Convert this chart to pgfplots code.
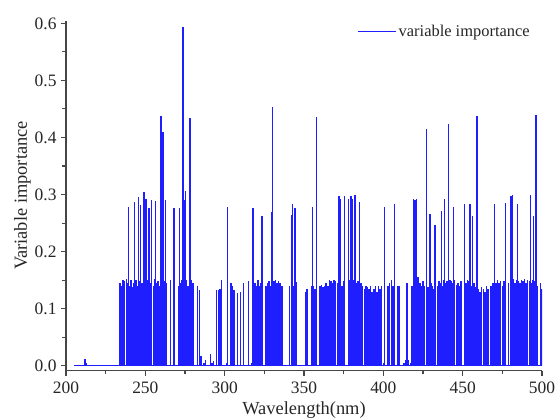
\documentclass[border=0pt]{standalone}
\usepackage{fontspec}
\setmainfont{Liberation Serif}
\usepackage{pgfplots}
\pgfplotsset{compat=1.18}
\definecolor{spinegray}{RGB}{70,70,70}
\definecolor{vblue}{RGB}{30,30,255}

\begin{document}
\begin{tikzpicture}
\begin{axis}[
    scale only axis,
    width=476bp, height=350bp,
    xmin=200, xmax=500,
    ymin=-0.0084, ymax=0.605,
    axis x line*=bottom,
    axis y line*=left,
    axis line style={spinegray, line width=1.3bp},
    xtick={200,250,...,500},
    ytick={0,0.1,...,0.6},
    minor x tick num=1,
    minor y tick num=1,
    tick align=outside,
    major tick length=5bp,
    minor tick length=3.5bp,
    tick style={spinegray, line width=1.1bp},
    /pgf/number format/assume math mode=true,
    ticklabel style={font=\fontsize{17.5}{19}\selectfont, text=black!85},
    yticklabel style={xshift=-1bp, /pgf/number format/.cd, fixed, fixed zerofill, precision=1},
    xticklabel style={yshift=-3bp, /pgf/number format/.cd, set thousands separator={}},
    xlabel={Wavelength(nm)},
    ylabel={Variable importance},
    label style={font=\fontsize{18.5}{20}\selectfont, text=black!85},
    xlabel style={yshift=-1bp},
    ylabel style={yshift=-3bp},
    legend style={at={(0.985,1.0)}, anchor=north east, draw=none, fill=none,
        font=\fontsize{16.5}{18}\selectfont, text=black!85},
    legend image code/.code={\draw[vblue, line width=1.2bp] (0bp,0bp) -- (38bp,0bp);},
]
% zero baseline of the spectrum
\addplot[vblue, line width=1.1bp, forget plot] coordinates {(205,0) (500,0)};
% near-zero values before the band
\addplot[vblue, ycomb, line width=1.1bp, forget plot] coordinates {(212,0.012) (213,0.004)};
% dense band of selected wavelengths (~0.14)
\addplot[vblue, ycomb, line width=1.5bp, forget plot] coordinates {
(234,0.145) (235,0.14) (236,0.15) (237,0.148) (238,0.152) (239,0.145) (240,0.14) (241,0.15) (242,0.138) (243,0.145)
(244,0.15) (245,0.14) (246,0.148) (247,0.15) (248,0.145) (249,0.152) (250,0.14) (251,0.15) (252,0.148) (253,0.145)
(254,0.15) (255,0.14) (256,0.152) (257,0.145) (258,0.148) (259,0.14) (260,0.15) (261,0.145) (262,0.148) (263,0.145)
(266,0.15) (268,0.148)
(271,0.14) (272,0.145) (273,0.15) (274,0.148) (275,0.145) (276,0.15) (277,0.14) (278,0.148) (279,0.15) (280,0.145)
(283,0.139) (284,0.132) (285,0.017) (287,0.005) (288,0.01) (291,0.02) (292,0.005) (293,0.008)
(295,0.133) (296,0.133) (297,0.135) (298,0.15) (301,0.005)
(304,0.145) (305,0.14) (306,0.133) (308,0.127) (310,0.13) (312,0.145) (315,0.148) (317,0.005)
(319,0.145) (320,0.14) (321,0.15) (322,0.14) (323,0.145)
(326,0.14) (327,0.145) (328,0.148) (329,0.14) (330,0.15) (331,0.148) (332,0.15) (333,0.145) (334,0.148) (335,0.145) (336,0.14)
(341,0.14) (342,0.145) (343,0.14) (344,0.145) (345,0.146)
(351,0.13) (352,0.135) (355,0.14) (356,0.14) (357,0.135) (358,0.14)
(360,0.14) (361,0.142) (362,0.138) (363,0.14) (364,0.145) (365,0.14) (366,0.15) (367,0.148) (368,0.145) (369,0.15)
(370,0.148) (371,0.145) (372,0.14) (373,0.148) (374,0.14) (375,0.148)
(378,0.145) (379,0.15) (380,0.148) (381,0.15) (382,0.152) (383,0.145) (384,0.148) (385,0.14) (386,0.145) (387,0.14)
(388,0.135) (389,0.14) (390,0.138) (391,0.135) (392,0.14) (393,0.13) (394,0.135) (395,0.14) (396,0.13) (397,0.14)
(398,0.135) (399,0.14) (400,0.005)
(403,0.14) (404,0.145) (405,0.15) (406,0.14) (407,0.14) (409,0.14) (410,0.14)
(413,0.005) (414,0.01) (415,0.145) (416,0.01) (417,0.005)
(418,0.14) (419,0.145) (420,0.15) (421,0.148) (422,0.155) (423,0.145) (424,0.14) (425,0.148) (426,0.14)
(428,0.138) (429,0.14) (430,0.145) (431,0.14) (432,0.135) (433,0.145) (434,0.14) (435,0.148) (436,0.145) (437,0.14)
(438,0.15) (439,0.145) (440,0.148) (441,0.14) (442,0.15) (443,0.148) (444,0.145) (445,0.15) (446,0.142) (447,0.145)
(448,0.14) (449,0.148)
(451,0.14) (452,0.145) (453,0.15) (454,0.148) (455,0.145) (456,0.14) (457,0.145) (458,0.138) (459,0.13) (460,0.135)
(461,0.13) (462,0.138) (463,0.135) (464,0.13) (465,0.14) (466,0.135)
(468,0.14) (469,0.145) (470,0.148) (471,0.145) (472,0.15) (473,0.145) (474,0.148) (475,0.14) (476,0.148) (477,0.15)
(479,0.145) (480,0.15) (481,0.148) (482,0.152) (483,0.145) (484,0.15) (485,0.148) (486,0.145) (487,0.15) (488,0.148)
(489,0.152) (490,0.145) (491,0.15) (492,0.148) (493,0.145) (494,0.15) (495,0.148) (496,0.145) (497,0.14)
(499,0.145) (500,0.135)
};
% tall spikes
\addplot[vblue, ycomb, line width=1.2bp, forget plot] coordinates {
(239.3,0.278) (243.0,0.287) (245.6,0.295) (247.0,0.282) (249.1,0.304) (250.4,0.293) (252.3,0.277) (254.0,0.290)
(256.3,0.289) (259.9,0.437) (261.1,0.409) (262.6,0.290) (268.1,0.277) (271.6,0.277) (273.7,0.593) (274.4,0.290)
(275.2,0.307) (278.1,0.434) (301.9,0.278) (317.8,0.277) (323.5,0.262) (329.6,0.270) (330.2,0.453)
(342.0,0.265) (342.8,0.283) (344.3,0.277) (355.6,0.278) (358.0,0.436)
(372.0,0.298) (373.0,0.292) (375.6,0.298) (378.1,0.293) (379.6,0.297) (380.2,0.292) (381.7,0.300) (382.3,0.300)
(385.1,0.287) (400.8,0.278) (407.1,0.283) (418.9,0.292) (419.9,0.290) (421.0,0.293) (427.3,0.415) (429.4,0.266)
(432.5,0.246) (436.7,0.272) (438.3,0.292) (441.1,0.424) (444.0,0.279) (451.2,0.283) (454.6,0.283) (456.3,0.262)
(459.0,0.438) (470.1,0.284) (477.0,0.285) (480.4,0.297) (481.3,0.300) (484.4,0.283) (493.0,0.300) (494.4,0.262)
(496.2,0.440)
};
\addlegendimage{vblue, line width=1.2bp}
\addlegendentry{variable importance}
\end{axis}
% frame the page like the reference image (axis origin at 0,0)
\pgfresetboundingbox
\path[use as bounding box] (-66bp,-47.5bp) rectangle (489bp,370.5bp);
\end{tikzpicture}
\end{document}
